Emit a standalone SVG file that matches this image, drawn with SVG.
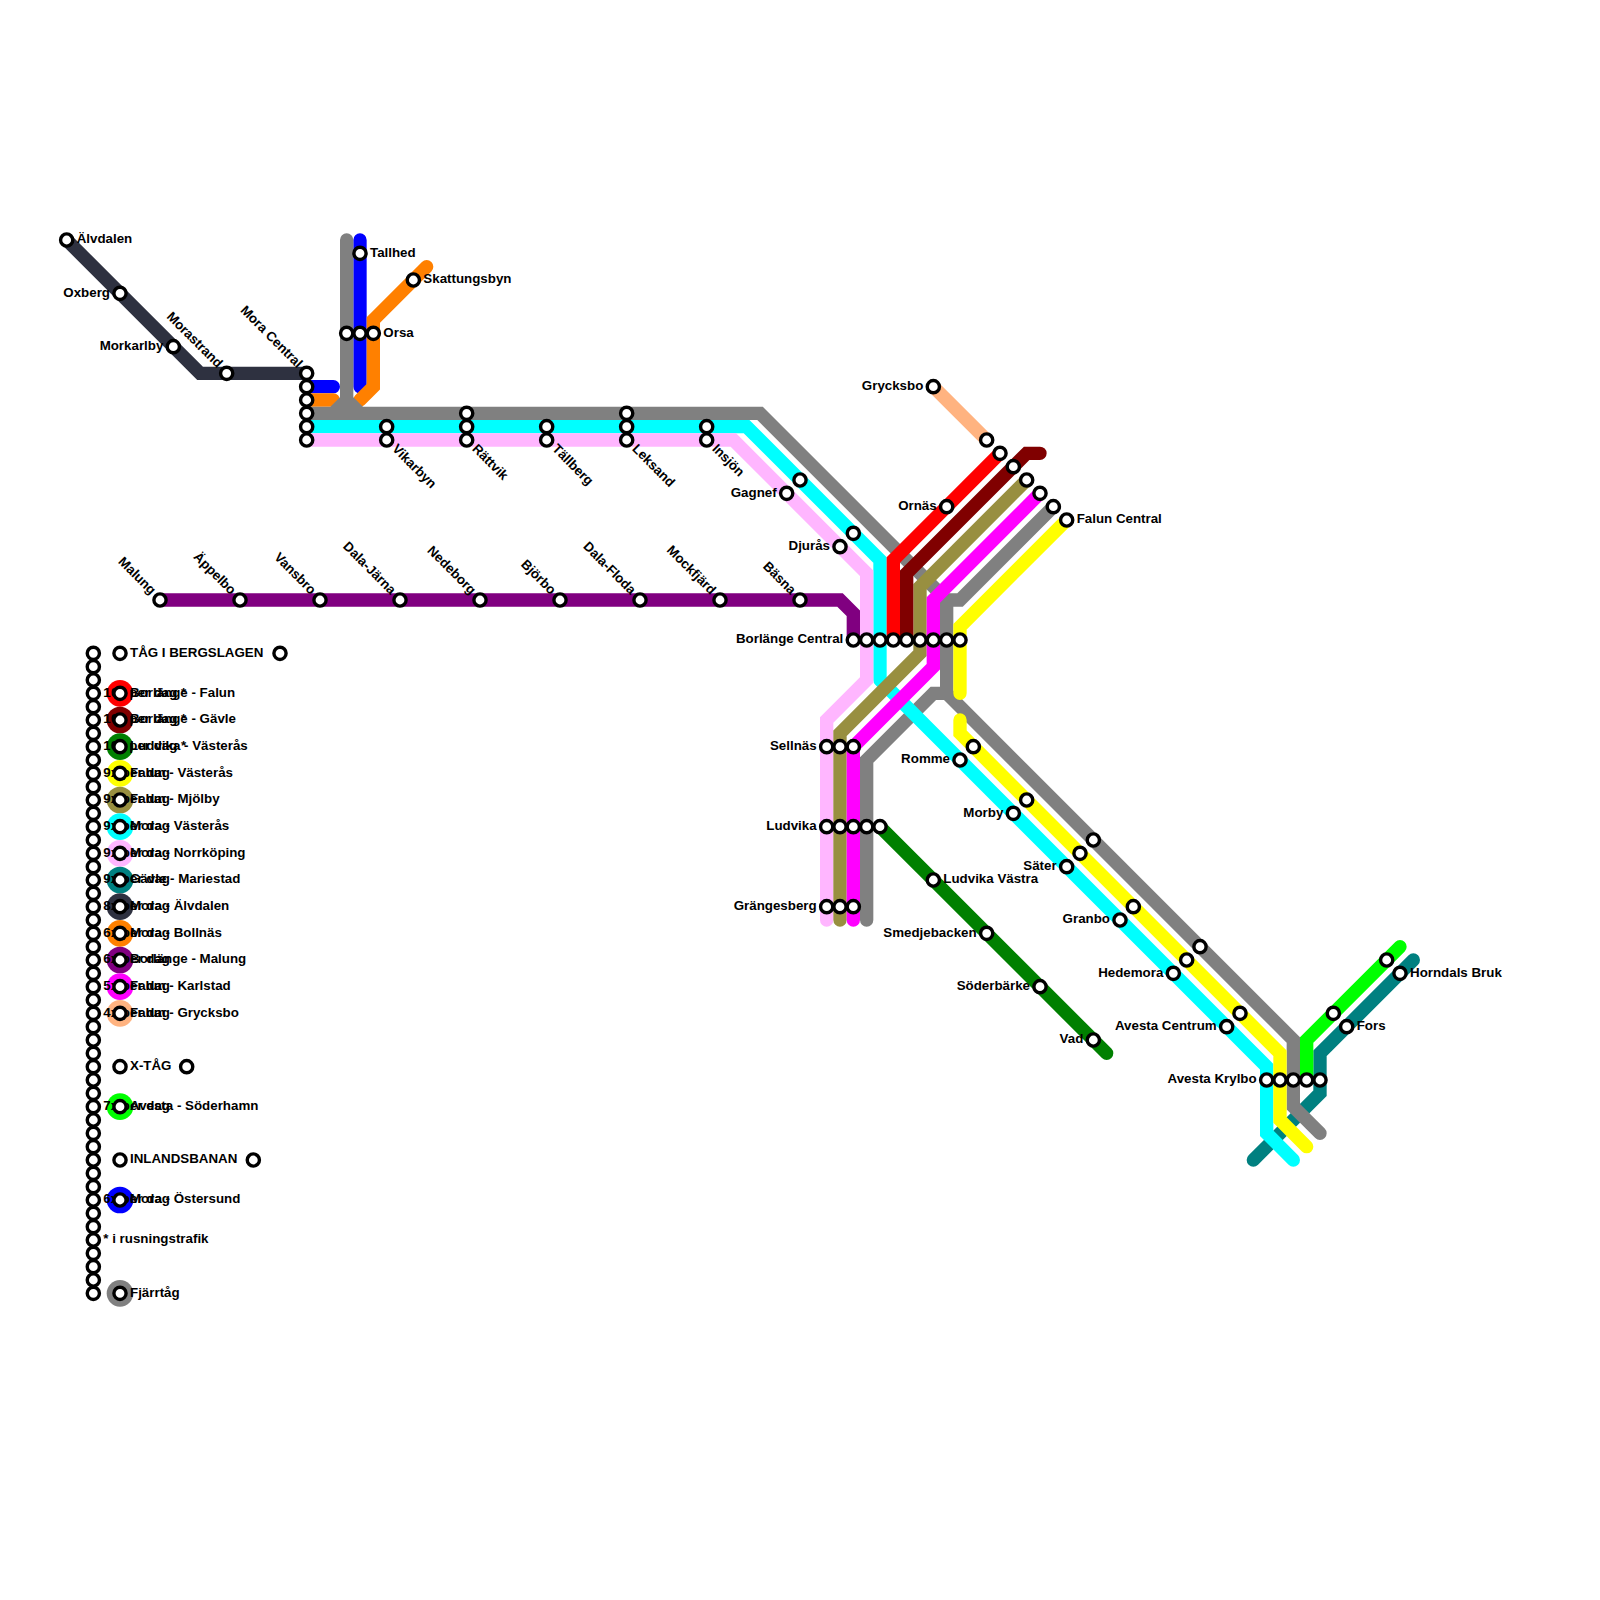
<svg xmlns="http://www.w3.org/2000/svg" width="1600" height="1600" viewBox="0 0 1600 1600">
<style>
text{font-family:"Liberation Sans",Arial,sans-serif;font-weight:700;font-size:13.33px;fill:#000}
.e{text-anchor:end}
circle.s{r:6.1px;fill:#fff;stroke:#000;stroke-width:3.4px}
#connectors path{fill:none;stroke-width:1;stroke-linecap:round;stroke-linejoin:miter}
#legend-swatches circle{r:13.33px}
</style>
<rect width="1600" height="1600" fill="#fff"/>
<g id="connectors" transform="scale(13.33333)">
<path stroke="#008080" d="M106 72L99 79V82L94 87"/>
<path stroke="#0000ff" d="M27 18V29M23 29H25"/>
<path stroke="#ff8000" d="M23 30H25M32 20L28 24V29L27 30"/>
<path stroke="#ffb380" d="M70 29L74 33"/>
<path stroke="#2e3140" d="M5 18L15 28H23"/>
<path stroke="#800080" d="M12 45H63L64 46V48"/>
<path stroke="#808080" d="M26 18V30L25 31H23M23 31H57L71 45V52L97 78V83L99 85M26 30L27 31M79 38L72 45H71M65 69V57L70 52H71"/>
<path stroke="#00ffff" d="M23 32H56L66 42V51M66 51L95 80V85L97 87"/>
<path stroke="#ffb6ff" d="M23 33H55L65 43V51L62 54V69"/>
<path stroke="#ffff00" d="M80 39L72 47V52M72 54V55L96 79V84L98 86"/>
<path stroke="#00ff00" d="M105 71L98 78V81"/>
<path stroke="#008000" d="M66 62L83 79"/>
<path stroke="#988f40" d="M77 36L69 44V49L63 55V69"/>
<path stroke="#ff00ff" d="M78 37L70 45V50L64 56V69"/>
<path stroke="#ff0000" d="M75 34L67 42V48"/>
<path stroke="#800000" d="M78 34H77L68 43V48"/>
</g>
<g id="legend-swatches">
<circle cx="120" cy="693.33" fill="#ff0000"/>
<circle cx="120" cy="720" fill="#800000"/>
<circle cx="120" cy="746.67" fill="#008000"/>
<circle cx="120" cy="773.33" fill="#ffff00"/>
<circle cx="120" cy="800" fill="#988f40"/>
<circle cx="120" cy="826.67" fill="#00ffff"/>
<circle cx="120" cy="853.33" fill="#ffb6ff"/>
<circle cx="120" cy="880" fill="#008080"/>
<circle cx="120" cy="906.67" fill="#2e3140"/>
<circle cx="120" cy="933.33" fill="#ff8000"/>
<circle cx="120" cy="960" fill="#800080"/>
<circle cx="120" cy="986.67" fill="#ff00ff"/>
<circle cx="120" cy="1013.33" fill="#ffb380"/>
<circle cx="120" cy="1106.67" fill="#00ff00"/>
<circle cx="120" cy="1200" fill="#0000ff"/>
<circle cx="120" cy="1293.33" fill="#808080"/>
</g>
<g id="legend-times">
<g id="l49"><circle class="s" cx="93.33" cy="653.33"/></g>
<g id="l50"><circle class="s" cx="93.33" cy="666.67"/></g>
<g id="l51"><circle class="s" cx="93.33" cy="680"/></g>
<g id="l52"><text x="103.33" y="696.66">10x per dag *</text><circle class="s" cx="93.33" cy="693.33"/></g>
<g id="l53"><circle class="s" cx="93.33" cy="706.67"/></g>
<g id="l54"><text x="103.33" y="723.33">10x per dag *</text><circle class="s" cx="93.33" cy="720"/></g>
<g id="l55"><circle class="s" cx="93.33" cy="733.33"/></g>
<g id="l56"><text x="103.33" y="750">10x per dag *</text><circle class="s" cx="93.33" cy="746.67"/></g>
<g id="l57"><circle class="s" cx="93.33" cy="760"/></g>
<g id="l58"><text x="103.33" y="776.66">9x per dag</text><circle class="s" cx="93.33" cy="773.33"/></g>
<g id="l59"><circle class="s" cx="93.33" cy="786.67"/></g>
<g id="l60"><text x="103.33" y="803.33">9x per dag</text><circle class="s" cx="93.33" cy="800"/></g>
<g id="l61"><circle class="s" cx="93.33" cy="813.33"/></g>
<g id="l62"><text x="103.33" y="830">9x per dag</text><circle class="s" cx="93.33" cy="826.67"/></g>
<g id="l63"><circle class="s" cx="93.33" cy="840"/></g>
<g id="l64"><text x="103.33" y="856.66">9x per dag</text><circle class="s" cx="93.33" cy="853.33"/></g>
<g id="l65"><circle class="s" cx="93.33" cy="866.67"/></g>
<g id="l66"><text x="103.33" y="883.33">9x per dag</text><circle class="s" cx="93.33" cy="880"/></g>
<g id="l67"><circle class="s" cx="93.33" cy="893.33"/></g>
<g id="l68"><text x="103.33" y="910">8x per dag</text><circle class="s" cx="93.33" cy="906.67"/></g>
<g id="l69"><circle class="s" cx="93.33" cy="920"/></g>
<g id="l70"><text x="103.33" y="936.66">6x per dag</text><circle class="s" cx="93.33" cy="933.33"/></g>
<g id="l71"><circle class="s" cx="93.33" cy="946.67"/></g>
<g id="l72"><text x="103.33" y="963.33">6x per dag</text><circle class="s" cx="93.33" cy="960"/></g>
<g id="l73"><circle class="s" cx="93.33" cy="973.33"/></g>
<g id="l74"><text x="103.33" y="990">5x per dag</text><circle class="s" cx="93.33" cy="986.67"/></g>
<g id="l75"><circle class="s" cx="93.33" cy="1000"/></g>
<g id="l76"><text x="103.33" y="1016.66">4x per dag</text><circle class="s" cx="93.33" cy="1013.33"/></g>
<g id="l77"><circle class="s" cx="93.33" cy="1026.67"/></g>
<g id="l78"><circle class="s" cx="93.33" cy="1040"/></g>
<g id="l79"><circle class="s" cx="93.33" cy="1053.33"/></g>
<g id="l80"><circle class="s" cx="93.33" cy="1066.67"/></g>
<g id="l81"><circle class="s" cx="93.33" cy="1080"/></g>
<g id="l82"><circle class="s" cx="93.33" cy="1093.33"/></g>
<g id="l83"><text x="103.33" y="1110">7x per dag</text><circle class="s" cx="93.33" cy="1106.67"/></g>
<g id="l84"><circle class="s" cx="93.33" cy="1120"/></g>
<g id="l85"><circle class="s" cx="93.33" cy="1133.33"/></g>
<g id="l86"><circle class="s" cx="93.33" cy="1146.67"/></g>
<g id="l87"><circle class="s" cx="93.33" cy="1160"/></g>
<g id="l88"><circle class="s" cx="93.33" cy="1173.33"/></g>
<g id="l89"><circle class="s" cx="93.33" cy="1186.67"/></g>
<g id="l90"><text x="103.33" y="1203.33">6x per dag</text><circle class="s" cx="93.33" cy="1200"/></g>
<g id="l91"><circle class="s" cx="93.33" cy="1213.33"/></g>
<g id="l92"><circle class="s" cx="93.33" cy="1226.67"/></g>
<g id="l93"><text x="103.33" y="1243.33">* i rusningstrafik</text><circle class="s" cx="93.33" cy="1240"/></g>
<g id="l94"><circle class="s" cx="93.33" cy="1253.33"/></g>
<g id="l95"><circle class="s" cx="93.33" cy="1266.67"/></g>
<g id="l96"><circle class="s" cx="93.33" cy="1280"/></g>
<g id="l97"><circle class="s" cx="93.33" cy="1293.33"/></g>
</g>
<g id="legend-routes">
<g id="r49"><text x="130" y="656.66">TÅG I BERGSLAGEN</text><circle class="s" cx="120" cy="653.33"/></g>
<g id="r49e"><circle class="s" cx="280" cy="653.33"/></g>
<g id="r52"><text x="130" y="696.66">Borlänge - Falun</text><circle class="s" cx="120" cy="693.33"/></g>
<g id="r54"><text x="130" y="723.33">Borlänge - Gävle</text><circle class="s" cx="120" cy="720"/></g>
<g id="r56"><text x="130" y="750">Ludvika - Västerås</text><circle class="s" cx="120" cy="746.67"/></g>
<g id="r58"><text x="130" y="776.66">Falun - Västerås</text><circle class="s" cx="120" cy="773.33"/></g>
<g id="r60"><text x="130" y="803.33">Falun - Mjölby</text><circle class="s" cx="120" cy="800"/></g>
<g id="r62"><text x="130" y="830">Mora - Västerås</text><circle class="s" cx="120" cy="826.67"/></g>
<g id="r64"><text x="130" y="856.66">Mora - Norrköping</text><circle class="s" cx="120" cy="853.33"/></g>
<g id="r66"><text x="130" y="883.33">Gävle - Mariestad</text><circle class="s" cx="120" cy="880"/></g>
<g id="r68"><text x="130" y="910">Mora - Älvdalen</text><circle class="s" cx="120" cy="906.67"/></g>
<g id="r70"><text x="130" y="936.66">Mora - Bollnäs</text><circle class="s" cx="120" cy="933.33"/></g>
<g id="r72"><text x="130" y="963.33">Borlänge - Malung</text><circle class="s" cx="120" cy="960"/></g>
<g id="r74"><text x="130" y="990">Falun - Karlstad</text><circle class="s" cx="120" cy="986.67"/></g>
<g id="r76"><text x="130" y="1016.66">Falun - Grycksbo</text><circle class="s" cx="120" cy="1013.33"/></g>
<g id="r80"><text x="130" y="1070">X-TÅG</text><circle class="s" cx="120" cy="1066.67"/></g>
<g id="r80e"><circle class="s" cx="186.67" cy="1066.67"/></g>
<g id="r83"><text x="130" y="1110">Avesta - Söderhamn</text><circle class="s" cx="120" cy="1106.67"/></g>
<g id="r87"><text x="130" y="1163.33">INLANDSBANAN</text><circle class="s" cx="120" cy="1160"/></g>
<g id="r87e"><circle class="s" cx="253.33" cy="1160"/></g>
<g id="r90"><text x="130" y="1203.33">Mora - Östersund</text><circle class="s" cx="120" cy="1200"/></g>
<g id="r97"><text x="130" y="1296.66">Fjärrtåg</text><circle class="s" cx="120" cy="1293.33"/></g>
</g>
<g id="stations">
<g id="alvdalen"><text x="76.67" y="243.33">Älvdalen</text><circle class="s" cx="66.67" cy="240"/></g>
<g id="oxberg"><text class="e" x="110" y="296.66">Oxberg</text><circle class="s" cx="120" cy="293.33"/></g>
<g id="morkarlby"><text class="e" x="163.33" y="350">Morkarlby</text><circle class="s" cx="173.33" cy="346.67"/></g>
<g id="morastrand"><text class="e" transform="translate(226.67 373.33) rotate(45)" x="-10" y="3.33">Morastrand</text><circle class="s" cx="226.67" cy="373.33"/></g>
<g id="moracentral"><text class="e" transform="translate(306.67 373.33) rotate(45)" x="-10" y="3.33">Mora Central</text><circle class="s" cx="306.67" cy="373.33"/></g>
<g id="m29"><circle class="s" cx="306.67" cy="386.67"/></g>
<g id="m30"><circle class="s" cx="306.67" cy="400"/></g>
<g id="m31"><circle class="s" cx="306.67" cy="413.33"/></g>
<g id="m32"><circle class="s" cx="306.67" cy="426.67"/></g>
<g id="m33"><circle class="s" cx="306.67" cy="440"/></g>
<g id="tallhed"><text x="370" y="256.66">Tallhed</text><circle class="s" cx="360" cy="253.33"/></g>
<g id="skattungsbyn"><text x="423.33" y="283.33">Skattungsbyn</text><circle class="s" cx="413.33" cy="280"/></g>
<g id="orsa"><circle class="s" cx="346.67" cy="333.33"/><circle class="s" cx="360" cy="333.33"/><text x="383.33" y="336.66">Orsa</text><circle class="s" cx="373.33" cy="333.33"/></g>
<g id="vikarbyn"><circle class="s" cx="386.67" cy="426.67"/><text transform="translate(386.67 440) rotate(45)" x="10" y="3.33">Vikarbyn</text><circle class="s" cx="386.67" cy="440"/></g>
<g id="rattvik"><circle class="s" cx="466.67" cy="413.33"/><circle class="s" cx="466.67" cy="426.67"/><text transform="translate(466.67 440) rotate(45)" x="10" y="3.33">Rättvik</text><circle class="s" cx="466.67" cy="440"/></g>
<g id="tallberg"><circle class="s" cx="546.67" cy="426.67"/><text transform="translate(546.67 440) rotate(45)" x="10" y="3.33">Tällberg</text><circle class="s" cx="546.67" cy="440"/></g>
<g id="leksand"><circle class="s" cx="626.67" cy="413.33"/><circle class="s" cx="626.67" cy="426.67"/><text transform="translate(626.67 440) rotate(45)" x="10" y="3.33">Leksand</text><circle class="s" cx="626.67" cy="440"/></g>
<g id="insjon"><circle class="s" cx="706.67" cy="426.67"/><text transform="translate(706.67 440) rotate(45)" x="10" y="3.33">Insjön</text><circle class="s" cx="706.67" cy="440"/></g>
<g id="gagnef"><circle class="s" cx="800" cy="480"/><text class="e" x="776.67" y="496.66">Gagnef</text><circle class="s" cx="786.67" cy="493.33"/></g>
<g id="djuras"><circle class="s" cx="853.33" cy="533.33"/><text class="e" x="830" y="550">Djurås</text><circle class="s" cx="840" cy="546.67"/></g>
<g id="malung"><text class="e" transform="translate(160 600) rotate(45)" x="-10" y="3.33">Malung</text><circle class="s" cx="160" cy="600"/></g>
<g id="appelbo"><text class="e" transform="translate(240 600) rotate(45)" x="-10" y="3.33">Äppelbo</text><circle class="s" cx="240" cy="600"/></g>
<g id="vansbro"><text class="e" transform="translate(320 600) rotate(45)" x="-10" y="3.33">Vansbro</text><circle class="s" cx="320" cy="600"/></g>
<g id="dalajarna"><text class="e" transform="translate(400 600) rotate(45)" x="-10" y="3.33">Dala-Järna</text><circle class="s" cx="400" cy="600"/></g>
<g id="nedeborg"><text class="e" transform="translate(480 600) rotate(45)" x="-10" y="3.33">Nedeborg</text><circle class="s" cx="480" cy="600"/></g>
<g id="bjorbo"><text class="e" transform="translate(560 600) rotate(45)" x="-10" y="3.33">Björbo</text><circle class="s" cx="560" cy="600"/></g>
<g id="dalafloda"><text class="e" transform="translate(640 600) rotate(45)" x="-10" y="3.33">Dala-Floda</text><circle class="s" cx="640" cy="600"/></g>
<g id="mockfjard"><text class="e" transform="translate(720 600) rotate(45)" x="-10" y="3.33">Mockfjärd</text><circle class="s" cx="720" cy="600"/></g>
<g id="basna"><text class="e" transform="translate(800 600) rotate(45)" x="-10" y="3.33">Bäsna</text><circle class="s" cx="800" cy="600"/></g>
<g id="borlange"><text class="e" x="843.33" y="643.33">Borlänge Central</text><circle class="s" cx="853.33" cy="640"/><circle class="s" cx="866.67" cy="640"/><circle class="s" cx="880" cy="640"/><circle class="s" cx="893.33" cy="640"/><circle class="s" cx="906.67" cy="640"/><circle class="s" cx="920" cy="640"/><circle class="s" cx="933.33" cy="640"/><circle class="s" cx="946.67" cy="640"/><circle class="s" cx="960" cy="640"/></g>
<g id="grycksbo"><text class="e" x="923.33" y="390">Grycksbo</text><circle class="s" cx="933.33" cy="386.67"/></g>
<g id="ornas"><text class="e" x="936.67" y="510">Ornäs</text><circle class="s" cx="946.67" cy="506.67"/></g>
<g id="falun"><circle class="s" cx="986.67" cy="440"/><circle class="s" cx="1000" cy="453.33"/><circle class="s" cx="1013.33" cy="466.67"/><circle class="s" cx="1026.67" cy="480"/><circle class="s" cx="1040" cy="493.33"/><circle class="s" cx="1053.33" cy="506.67"/><text x="1076.67" y="523.33">Falun Central</text><circle class="s" cx="1066.67" cy="520"/></g>
<g id="sellnas"><text class="e" x="816.67" y="750">Sellnäs</text><circle class="s" cx="826.67" cy="746.67"/><circle class="s" cx="840" cy="746.67"/><circle class="s" cx="853.33" cy="746.67"/></g>
<g id="ludvika"><text class="e" x="816.67" y="830">Ludvika</text><circle class="s" cx="826.67" cy="826.67"/><circle class="s" cx="840" cy="826.67"/><circle class="s" cx="853.33" cy="826.67"/><circle class="s" cx="866.67" cy="826.67"/><circle class="s" cx="880" cy="826.67"/></g>
<g id="grangesberg"><text class="e" x="816.67" y="910">Grängesberg</text><circle class="s" cx="826.67" cy="906.67"/><circle class="s" cx="840" cy="906.67"/><circle class="s" cx="853.33" cy="906.67"/></g>
<g id="ludvikav"><text x="943.33" y="883.33">Ludvika Västra</text><circle class="s" cx="933.33" cy="880"/></g>
<g id="smedjebacken"><text class="e" x="976.67" y="936.66">Smedjebacken</text><circle class="s" cx="986.67" cy="933.33"/></g>
<g id="soderbarke"><text class="e" x="1030" y="990">Söderbärke</text><circle class="s" cx="1040" cy="986.67"/></g>
<g id="vad"><text class="e" x="1083.33" y="1043.33">Vad</text><circle class="s" cx="1093.33" cy="1040"/></g>
<g id="romme"><text class="e" x="950" y="763.33">Romme</text><circle class="s" cx="960" cy="760"/><circle class="s" cx="973.33" cy="746.67"/></g>
<g id="morby"><text class="e" x="1003.33" y="816.66">Morby</text><circle class="s" cx="1013.33" cy="813.33"/><circle class="s" cx="1026.67" cy="800"/></g>
<g id="sater"><text class="e" x="1056.67" y="870">Säter</text><circle class="s" cx="1066.67" cy="866.67"/><circle class="s" cx="1080" cy="853.33"/><circle class="s" cx="1093.33" cy="840"/></g>
<g id="granbo"><text class="e" x="1110" y="923.33">Granbo</text><circle class="s" cx="1120" cy="920"/><circle class="s" cx="1133.33" cy="906.67"/></g>
<g id="hedemora"><text class="e" x="1163.33" y="976.66">Hedemora</text><circle class="s" cx="1173.33" cy="973.33"/><circle class="s" cx="1186.67" cy="960"/><circle class="s" cx="1200" cy="946.67"/></g>
<g id="avestac"><text class="e" x="1216.67" y="1030">Avesta Centrum</text><circle class="s" cx="1226.67" cy="1026.67"/><circle class="s" cx="1240" cy="1013.33"/></g>
<g id="krylbo"><text class="e" x="1256.67" y="1083.33">Avesta Krylbo</text><circle class="s" cx="1266.67" cy="1080"/><circle class="s" cx="1280" cy="1080"/><circle class="s" cx="1293.33" cy="1080"/><circle class="s" cx="1306.67" cy="1080"/><circle class="s" cx="1320" cy="1080"/></g>
<g id="fors"><circle class="s" cx="1333.33" cy="1013.33"/><text x="1356.67" y="1030">Fors</text><circle class="s" cx="1346.67" cy="1026.67"/></g>
<g id="horndal"><circle class="s" cx="1386.67" cy="960"/><text x="1410" y="976.66">Horndals Bruk</text><circle class="s" cx="1400" cy="973.33"/></g>
</g>
</svg>
